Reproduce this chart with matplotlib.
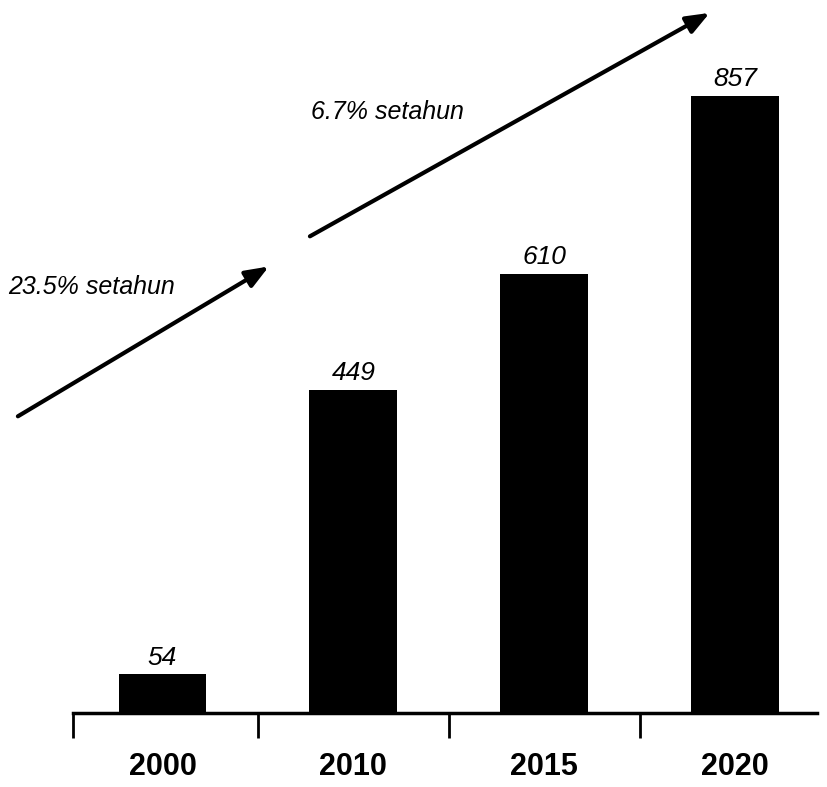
import matplotlib.pyplot as plt
from matplotlib import font_manager
import numpy as np

years = ["2000", "2010", "2015", "2020"]
values = [54, 449, 610, 857]
growth_labels = ["23.5% setahun", "6.7% setahun"]

names = {f.name for f in font_manager.fontManager.ttflist}
font = "Liberation Sans Narrow" if "Liberation Sans Narrow" in names else "Liberation Sans"
plt.rcParams["font.family"] = [font, "DejaVu Sans"]

fig = plt.figure(figsize=(8.27, 7.87), dpi=100)
ax = fig.add_axes([0.088, 0.094, 0.90, 0.906])

x = np.arange(len(years))
bars = ax.bar(x, values, width=0.46, color="black")

for bar, v in zip(bars, values):
    ax.text(bar.get_x() + bar.get_width() / 2, v + 6, str(v),
            ha="center", va="bottom", fontsize=19, style="italic")

ax.set_xlim(-0.47, 3.43)
ax.set_ylim(0, 990)

for s in ["top", "right", "left"]:
    ax.spines[s].set_visible(False)
ax.spines["bottom"].set_linewidth(2.5)
ax.set_yticks([])

ax.set_xticks(x)
ax.set_xticklabels(years, fontsize=22, fontweight="bold")
ax.tick_params(axis="x", which="major", length=0, pad=28)
ax.set_xticks([-0.47, 0.5, 1.5, 2.5], minor=True)
ax.tick_params(axis="x", which="minor", length=18, width=2, direction="out")

# growth arrows
arrow = dict(arrowstyle="-|>,head_length=1.4,head_width=0.55", lw=3, color="black")
ax.annotate("", xy=(0.57, 622), xytext=(-0.77, 410),
            arrowprops=arrow, annotation_clip=False)
ax.annotate("", xy=(2.88, 974), xytext=(0.76, 660),
            arrowprops=arrow, annotation_clip=False)
ax.text(-0.81, 592, growth_labels[0], ha="left", va="center",
        fontsize=18, style="italic")
ax.text(0.78, 834, growth_labels[1], ha="left", va="center",
        fontsize=18, style="italic")

fig.savefig("out.png", dpi=100)
